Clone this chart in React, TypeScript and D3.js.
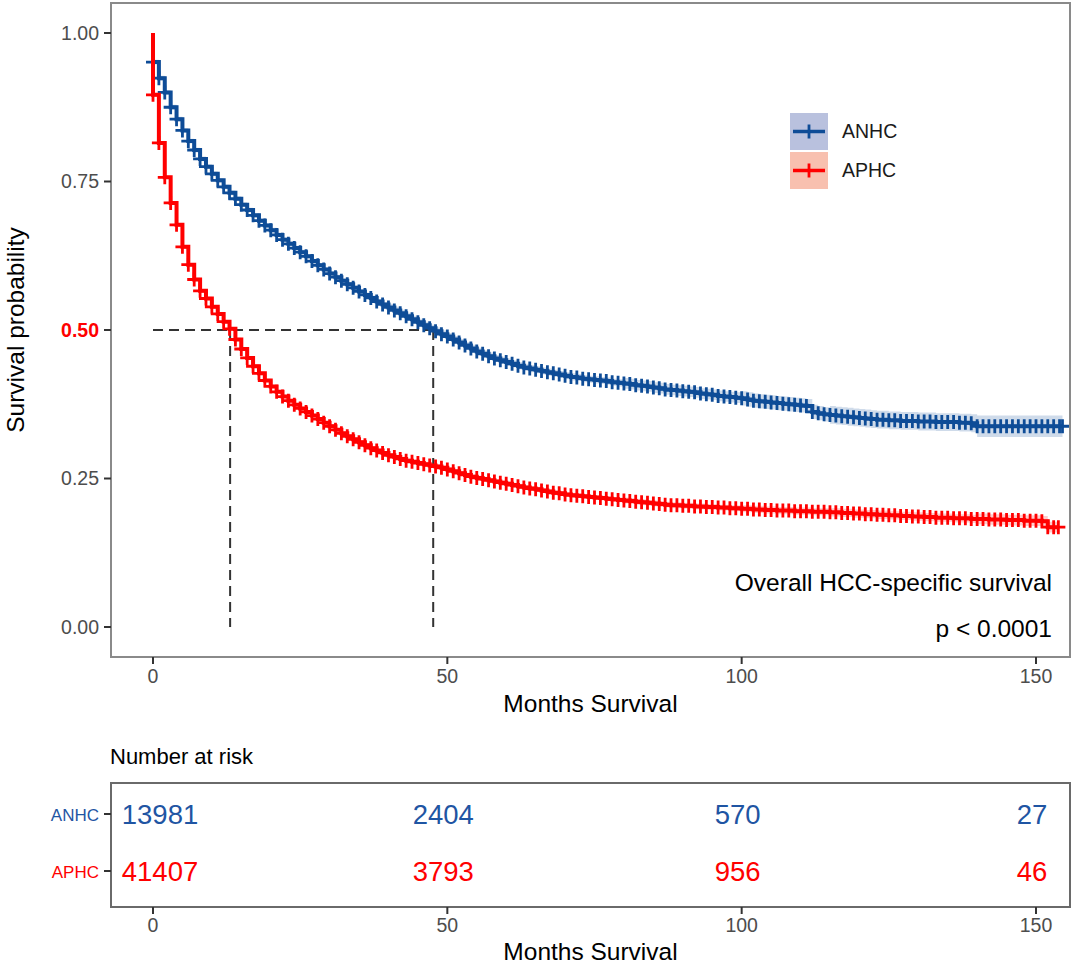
import React from "react";
import * as d3 from "d3";

// ---------- data ----------
const groups = ["ANHC", "APHC"];
const groupColors = ["#0E4C97", "#FF0000"];
const legendFills = ["#B9C1DE", "#F8C0AF"];

// Kaplan-Meier survival estimates at monthly steps (month 0, 1, 2, ...)
const anhcSurv = [
  0.951, 0.924, 0.9, 0.875, 0.855, 0.836, 0.818, 0.803, 0.788, 0.775,
  0.763, 0.752, 0.741, 0.731, 0.721, 0.711, 0.702, 0.693, 0.684, 0.676,
  0.668, 0.66, 0.652, 0.645, 0.638, 0.631, 0.624, 0.616, 0.609, 0.602,
  0.595, 0.589, 0.583, 0.577, 0.571, 0.565, 0.559, 0.554, 0.548, 0.543,
  0.538, 0.533, 0.528, 0.523, 0.518, 0.513, 0.508, 0.503, 0.498, 0.493,
  0.489, 0.484, 0.479, 0.474, 0.469, 0.464, 0.46, 0.456, 0.452, 0.449,
  0.446, 0.443, 0.44, 0.437, 0.435, 0.433, 0.431, 0.429, 0.427, 0.425,
  0.423, 0.421, 0.42, 0.418, 0.417, 0.416, 0.415, 0.414, 0.412, 0.411,
  0.41, 0.409, 0.407, 0.406, 0.405, 0.403, 0.402, 0.4, 0.399, 0.398,
  0.397, 0.396, 0.395, 0.393, 0.392, 0.391, 0.389, 0.388, 0.387, 0.386,
  0.385, 0.383, 0.381, 0.38, 0.379, 0.378, 0.377, 0.376, 0.375, 0.374,
  0.373, 0.372, 0.362, 0.36, 0.358, 0.357, 0.356, 0.355, 0.354, 0.353,
  0.352, 0.351, 0.35, 0.349, 0.349, 0.348, 0.348, 0.347, 0.347, 0.347,
  0.346, 0.346, 0.346, 0.345, 0.345, 0.345, 0.345, 0.344, 0.344, 0.343,
  0.338, 0.338, 0.338, 0.338, 0.338, 0.338, 0.338, 0.338, 0.338, 0.338,
  0.338, 0.338, 0.338, 0.338, 0.338,
];
const aphcSurv = [
  0.896, 0.815, 0.757, 0.714, 0.677, 0.64, 0.61, 0.585, 0.566, 0.553,
  0.539, 0.527, 0.514, 0.502, 0.484, 0.468, 0.453, 0.439, 0.427, 0.415,
  0.405, 0.396, 0.388, 0.381, 0.374, 0.368, 0.362, 0.356, 0.35, 0.344,
  0.338, 0.332, 0.326, 0.321, 0.316, 0.311, 0.306, 0.301, 0.297, 0.293,
  0.289, 0.286, 0.283, 0.28, 0.278, 0.276, 0.274, 0.272, 0.27, 0.268,
  0.265, 0.262, 0.259, 0.256, 0.253, 0.251, 0.249, 0.247, 0.245, 0.243,
  0.241, 0.239, 0.237, 0.235, 0.233, 0.232, 0.23, 0.228, 0.226, 0.225,
  0.223, 0.222, 0.221, 0.22, 0.219, 0.218, 0.217, 0.216, 0.215, 0.214,
  0.213, 0.212, 0.211, 0.21, 0.209, 0.208, 0.207, 0.206, 0.205, 0.205,
  0.204, 0.204, 0.203, 0.203, 0.202, 0.202, 0.201, 0.201, 0.2, 0.2,
  0.199, 0.199, 0.198, 0.198, 0.197, 0.197, 0.196, 0.196, 0.196, 0.195,
  0.195, 0.195, 0.194, 0.194, 0.194, 0.193, 0.193, 0.192, 0.192, 0.191,
  0.191, 0.19, 0.19, 0.189, 0.189, 0.188, 0.188, 0.187, 0.187, 0.186,
  0.186, 0.185, 0.185, 0.184, 0.184, 0.184, 0.183, 0.183, 0.183, 0.182,
  0.182, 0.182, 0.181, 0.181, 0.181, 0.18, 0.18, 0.18, 0.179, 0.179,
  0.179, 0.178, 0.168, 0.168,
];
const lastFollowUp = [154.5, 153.8];

// confidence-band half widths, stepwise from these months
const ciMonths = [0, 40, 80, 100, 115, 140];
const anhcCiHalf = [0.004, 0.006, 0.009, 0.012, 0.015, 0.018];
const aphcCiHalf = [0.003, 0.004, 0.005, 0.006, 0.007, 0.009];

const medians = [47.6, 13.1];

const xTicks = [0, 50, 100, 150];
const yTicks = [0, 0.25, 0.5, 0.75, 1.0];
const yTickLabels = ["0.00", "0.25", "0.50", "0.75", "1.00"];

const riskTimes = [0, 50, 100, 150];
const anhcRisk = [13981, 2404, 570, 27];
const aphcRisk = [41407, 3793, 956, 46];

const annotation = "Overall HCC-specific survival";
const pValue = "p < 0.0001";

// ---------- layout ----------
const W = 1080;
const H = 964;
const panel = { left: 111, right: 1070, top: 3, bottom: 657 };
const FONT = "'Liberation Sans', Arial, Helvetica, sans-serif";

const x = d3.scaleLinear().domain([0, 150]).range([153, 1036]);
const y = d3.scaleLinear().domain([0, 1]).range([627, 33]);

const risk = { top: 783, bottom: 907 };
const riskRowY = [814, 871];

function ciAt(t: number, arr: number[]) {
  let w = arr[0];
  for (let i = 0; i < ciMonths.length; i++) if (t >= ciMonths[i]) w = arr[i];
  return w;
}

function buildSeries(surv: number[], end: number) {
  const pts: [number, number][] = [[0, 1]];
  surv.forEach((v, i) => pts.push([i, v]));
  pts.push([end, surv[surv.length - 1]]);
  return pts;
}

export default function App() {
  const series = [anhcSurv, aphcSurv];
  const ciArrs = [anhcCiHalf, aphcCiHalf];
  const line = d3
    .line<[number, number]>()
    .x((d) => x(d[0]))
    .y((d) => y(d[1]))
    .curve(d3.curveStepAfter);

  const area = d3
    .area<[number, number, number]>()
    .x((d) => x(d[0]))
    .y0((d) => y(d[1]))
    .y1((d) => y(d[2]))
    .curve(d3.curveStepAfter);

  const ps = 7; // censor mark half size

  return (
    <svg
      width={W}
      height={H}
      style={{ position: "absolute", left: 0, top: 0, background: "#fff" }}
      fontFamily={FONT}
    >
      <rect x={0} y={0} width={W} height={H} fill="#fff" />

      {/* confidence bands */}
      {series.map((s, gi) => {
        const pts = buildSeries(s, lastFollowUp[gi]).slice(1);
        const band = pts.map(
          (p) =>
            [p[0], p[1] - ciAt(p[0], ciArrs[gi]), p[1] + ciAt(p[0], ciArrs[gi])] as [
              number,
              number,
              number
            ]
        );
        return (
          <path
            key={"band" + gi}
            d={area(band) || ""}
            fill={groupColors[gi]}
            opacity={0.2}
          />
        );
      })}

      {/* median dashed lines */}
      <g stroke="#333" strokeWidth={2} strokeDasharray="10,6" fill="none">
        <line x1={x(0)} x2={x(d3.max(medians)!)} y1={y(0.5)} y2={y(0.5)} />
        {medians.map((m, i) => (
          <line key={i} x1={x(m)} x2={x(m)} y1={y(0.5)} y2={y(0)} />
        ))}
      </g>

      {/* curves */}
      {series.map((s, gi) => {
        const pts = buildSeries(s, lastFollowUp[gi]);
        const marks = s
          .map((v, i) => {
            const cx = x(i);
            const cy = y(v);
            return `M${cx - ps},${cy}h${2 * ps}M${cx},${cy - ps}v${2 * ps}`;
          })
          .join("");
        const endMark = `M${x(lastFollowUp[gi]) - ps},${y(s[s.length - 1])}h${2 * ps}M${x(
          lastFollowUp[gi]
        )},${y(s[s.length - 1]) - ps}v${2 * ps}`;
        return (
          <g key={"curve" + gi}>
            <path
              d={line(pts) || ""}
              fill="none"
              stroke={groupColors[gi]}
              strokeWidth={4}
            />
            <path d={marks + endMark} fill="none" stroke={groupColors[gi]} strokeWidth={2.8} />
          </g>
        );
      })}

      {/* panel border */}
      <rect
        x={panel.left}
        y={panel.top}
        width={panel.right - panel.left}
        height={panel.bottom - panel.top}
        fill="none"
        stroke="#8a8a8a"
        strokeWidth={2}
      />

      {/* y axis */}
      {yTicks.map((t, i) => (
        <g key={"yt" + i}>
          <line x1={panel.left - 7} x2={panel.left} y1={y(t)} y2={y(t)} stroke="#333" strokeWidth={2} />
          <text
            x={panel.left - 12}
            y={y(t)}
            dy="0.35em"
            textAnchor="end"
            fontSize={19.5}
            fill={t === 0.5 ? "#FF0000" : "#4D4D4D"}
            fontWeight={t === 0.5 ? "bold" : "normal"}
          >
            {yTickLabels[i]}
          </text>
        </g>
      ))}
      <text
        transform={`translate(24,${(panel.top + panel.bottom) / 2}) rotate(-90)`}
        textAnchor="middle"
        fontSize={24.5}
        fill="#000"
      >
        Survival probability
      </text>

      {/* x axis */}
      {xTicks.map((t, i) => (
        <g key={"xt" + i}>
          <line x1={x(t)} x2={x(t)} y1={panel.bottom} y2={panel.bottom + 7} stroke="#333" strokeWidth={2} />
          <text x={x(t)} y={panel.bottom + 26} textAnchor="middle" fontSize={19.5} fill="#4D4D4D">
            {t}
          </text>
        </g>
      ))}
      <text x={(panel.left + panel.right) / 2} y={712} textAnchor="middle" fontSize={24.5} fill="#000">
        Months Survival
      </text>

      {/* annotation */}
      <text x={1052} y={591} textAnchor="end" fontSize={24.5} fill="#000">
        {annotation}
      </text>
      <text x={1052} y={637} textAnchor="end" fontSize={24.5} fill="#000">
        {pValue}
      </text>

      {/* legend */}
      {groups.map((g, i) => {
        const by = 113 + i * 39;
        const cy = by + 18.5;
        return (
          <g key={"lg" + i}>
            <rect x={790} y={by} width={38} height={37} fill={legendFills[i]} />
            <line x1={793} x2={825} y1={cy} y2={cy} stroke={groupColors[i]} strokeWidth={3.5} />
            <line x1={809} x2={809} y1={cy - 7} y2={cy + 7} stroke={groupColors[i]} strokeWidth={2.8} />
            <text x={842} y={cy} dy="0.35em" fontSize={19.5} fill="#1a1a1a">
              {g}
            </text>
          </g>
        );
      })}

      {/* risk table */}
      <text x={110} y={764} fontSize={22} fill="#000">
        Number at risk
      </text>
      <rect
        x={panel.left}
        y={risk.top}
        width={panel.right - panel.left}
        height={risk.bottom - risk.top}
        fill="none"
        stroke="#6a6a6a"
        strokeWidth={2}
      />
      {groups.map((g, i) => (
        <g key={"rr" + i}>
          <line x1={panel.left - 7} x2={panel.left} y1={riskRowY[i]} y2={riskRowY[i]} stroke="#333" strokeWidth={2} />
          <text
            x={panel.left - 12}
            y={riskRowY[i] + 1}
            dy="0.35em"
            textAnchor="end"
            fontSize={17}
            fill={i === 1 ? "#FF0000" : "#1F55A3"}
          >
            {g}
          </text>
          {(i === 0 ? anhcRisk : aphcRisk).map((n, j) => (
            <text
              key={j}
              x={x(riskTimes[j]) + (j === 0 ? 7 : -4)}
              y={riskRowY[i]}
              dy="0.35em"
              textAnchor="middle"
              fontSize={27.5}
              fill={i === 0 ? "#1F55A3" : "#FF0000"}
            >
              {n}
            </text>
          ))}
        </g>
      ))}
      {xTicks.map((t, i) => (
        <g key={"rxt" + i}>
          <line x1={x(t)} x2={x(t)} y1={risk.bottom} y2={risk.bottom + 7} stroke="#333" strokeWidth={2} />
          <text x={x(t)} y={risk.bottom + 25} textAnchor="middle" fontSize={19.5} fill="#4D4D4D">
            {t}
          </text>
        </g>
      ))}
      <text x={(panel.left + panel.right) / 2} y={960} textAnchor="middle" fontSize={24.5} fill="#000">
        Months Survival
      </text>
    </svg>
  );
}
